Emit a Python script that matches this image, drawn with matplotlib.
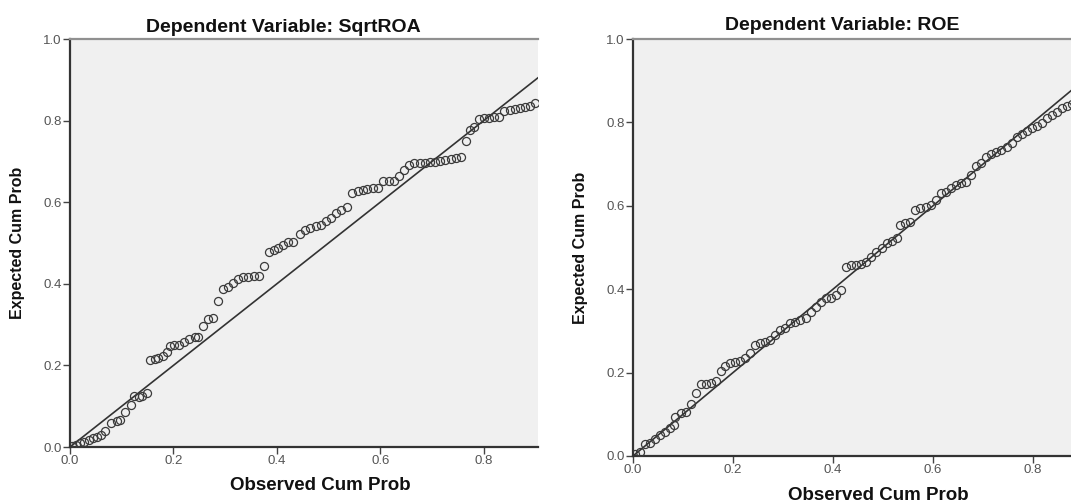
import matplotlib
matplotlib.use("Agg")
import matplotlib.pyplot as plt

plt.rcParams['font.family'] = ['Liberation Sans', 'DejaVu Sans']

# ---- data: SqrtROA P-P plot ----
roa_obs = [0.004, 0.012, 0.020, 0.028, 0.036, 0.044, 0.052, 0.060, 0.068, 0.080, 0.090, 0.097,
           0.107, 0.117, 0.124, 0.134, 0.140, 0.149,
           0.154, 0.164, 0.171, 0.179, 0.187, 0.194, 0.202, 0.211, 0.221, 0.231, 0.241, 0.248,
           0.258, 0.266, 0.276, 0.286, 0.296, 0.305, 0.315, 0.325, 0.335, 0.345, 0.355, 0.365,
           0.375, 0.385, 0.395, 0.403, 0.412, 0.422, 0.432, 0.445, 0.455, 0.465, 0.475, 0.485,
           0.495, 0.505, 0.515, 0.525, 0.535, 0.546, 0.556, 0.566, 0.574, 0.586, 0.596, 0.606,
           0.616, 0.626, 0.636, 0.646, 0.656, 0.666, 0.676, 0.686, 0.696, 0.706, 0.716, 0.726,
           0.736, 0.746, 0.756, 0.766, 0.773, 0.782, 0.790, 0.800, 0.810, 0.820, 0.830, 0.840,
           0.850, 0.860, 0.870, 0.880, 0.890, 0.900]
roa_exp = [0.002, 0.005, 0.009, 0.013, 0.017, 0.021, 0.025, 0.030, 0.040, 0.058, 0.063, 0.065,
           0.087, 0.104, 0.124, 0.123, 0.126, 0.132,
           0.214, 0.216, 0.218, 0.224, 0.232, 0.247, 0.251, 0.251, 0.257, 0.265, 0.270, 0.270,
           0.296, 0.314, 0.316, 0.357, 0.388, 0.392, 0.402, 0.412, 0.416, 0.416, 0.419, 0.420,
           0.443, 0.478, 0.484, 0.488, 0.496, 0.502, 0.502, 0.521, 0.533, 0.537, 0.541, 0.545,
           0.554, 0.562, 0.574, 0.580, 0.589, 0.623, 0.627, 0.630, 0.633, 0.635, 0.635, 0.652,
           0.652, 0.652, 0.664, 0.680, 0.691, 0.695, 0.697, 0.697, 0.698, 0.698, 0.701, 0.703,
           0.706, 0.709, 0.711, 0.750, 0.778, 0.785, 0.803, 0.807, 0.807, 0.810, 0.810, 0.823,
           0.827, 0.828, 0.831, 0.834, 0.837, 0.844]

# ---- data: ROE P-P plot ----
roe_obs = [0.003, 0.014, 0.024, 0.034, 0.044, 0.054, 0.064, 0.074, 0.081, 0.084, 0.095, 0.105,
           0.115, 0.125, 0.135, 0.145, 0.155, 0.166, 0.176, 0.184, 0.193, 0.203, 0.213, 0.223,
           0.233, 0.243, 0.253, 0.264, 0.274, 0.284, 0.294, 0.304, 0.314, 0.324, 0.334, 0.345,
           0.355, 0.365, 0.375, 0.385, 0.395, 0.405, 0.416, 0.426, 0.436, 0.446, 0.456, 0.466,
           0.476, 0.486, 0.497, 0.507, 0.517, 0.527, 0.534, 0.544, 0.554, 0.564, 0.574, 0.585,
           0.595, 0.605, 0.615, 0.625, 0.635, 0.645, 0.655, 0.666, 0.676, 0.686, 0.696, 0.706,
           0.716, 0.726, 0.736, 0.747, 0.757, 0.767, 0.777, 0.787, 0.797, 0.807, 0.818, 0.828,
           0.838, 0.848, 0.858, 0.868, 0.878]
roe_exp = [0.005, 0.010, 0.029, 0.030, 0.040, 0.050, 0.058, 0.068, 0.074, 0.094, 0.102, 0.106,
           0.125, 0.152, 0.172, 0.172, 0.174, 0.180, 0.203, 0.216, 0.222, 0.226, 0.229, 0.234,
           0.246, 0.266, 0.272, 0.274, 0.278, 0.290, 0.302, 0.306, 0.320, 0.322, 0.325, 0.330,
           0.346, 0.358, 0.370, 0.378, 0.380, 0.386, 0.398, 0.454, 0.458, 0.458, 0.460, 0.466,
           0.478, 0.490, 0.498, 0.510, 0.516, 0.522, 0.554, 0.558, 0.562, 0.590, 0.594, 0.598,
           0.602, 0.615, 0.631, 0.634, 0.642, 0.650, 0.654, 0.658, 0.674, 0.695, 0.702, 0.718,
           0.724, 0.730, 0.735, 0.741, 0.751, 0.764, 0.772, 0.780, 0.786, 0.791, 0.799, 0.810,
           0.818, 0.826, 0.834, 0.839, 0.844]

titles = ["Dependent Variable: SqrtROA", "Dependent Variable: ROE"]
xlabel = "Observed Cum Prob"
ylabel = "Expected Cum Prob"
ticks = [0.0, 0.2, 0.4, 0.6, 0.8, 1.0]
tick_labels = ["0.0", "0.2", "0.4", "0.6", "0.8", "1.0"]

W, H = 1071, 503
fig = plt.figure(figsize=(W / 100, H / 100), dpi=100)
fig.patch.set_facecolor("white")

# axes rectangles in pixels: left, right, top(y=1.0), bottom(y=0.0)
rects = [(70, 538, 39, 447), (633, 1071, 39, 456)]
xmaxes = [0.905, 0.876]
datasets = [(roa_obs, roa_exp), (roe_obs, roe_exp)]
ylabel_x = [18, 580]
title_pos = [(283, 27), (842, 25)]
xlabel_pos = [(320, 486), (878, 496)]

for i in range(2):
    l, r, t, b = rects[i]
    ax = fig.add_axes([l / W, (H - b) / H, (r - l) / W, (b - t) / H])
    ax.set_facecolor("#f0f0f0")
    ax.set_xlim(0, xmaxes[i])
    ax.set_ylim(0, 1.0)
    obs, exp = datasets[i]
    ax.plot([0, 1], [0, 1], color="#333333", lw=1.2, zorder=2)
    ax.plot(obs, exp, linestyle="none", marker="o", markersize=5.8,
            markerfacecolor="none", markeredgecolor="#3a3a3a", markeredgewidth=0.9, zorder=3)
    ax.set_xticks(ticks[:-1])
    ax.set_xticklabels(tick_labels[:-1])
    ax.set_yticks(ticks)
    ax.set_yticklabels(tick_labels)
    ax.tick_params(axis="both", direction="out", length=5, width=1.0, color="#444444",
                   labelsize=9.5, labelcolor="#555555", pad=1)
    for s in ["left", "bottom"]:
        ax.spines[s].set_color("#333333")
        ax.spines[s].set_linewidth(1.6)
    ax.spines["top"].set_color("#909090")
    ax.spines["top"].set_linewidth(1.6)
    ax.spines["right"].set_visible(False)

    tx, ty = title_pos[i]
    fig.text(tx / W, 1 - ty / H, titles[i], ha="center", va="center",
             fontsize=14, fontweight="bold", color="#111111")
    lx, ly = xlabel_pos[i]
    fig.text(lx / W, 1 - ly / H, xlabel, ha="center", va="center",
             fontsize=13.5, fontweight="bold", color="#111111")
    fig.text(ylabel_x[i] / W, 1 - ((t + b) / 2) / H, ylabel, ha="center", va="center",
             rotation=90, fontsize=11.5, fontweight="bold", color="#111111")

fig.savefig("out.png", dpi=100, facecolor="white")
